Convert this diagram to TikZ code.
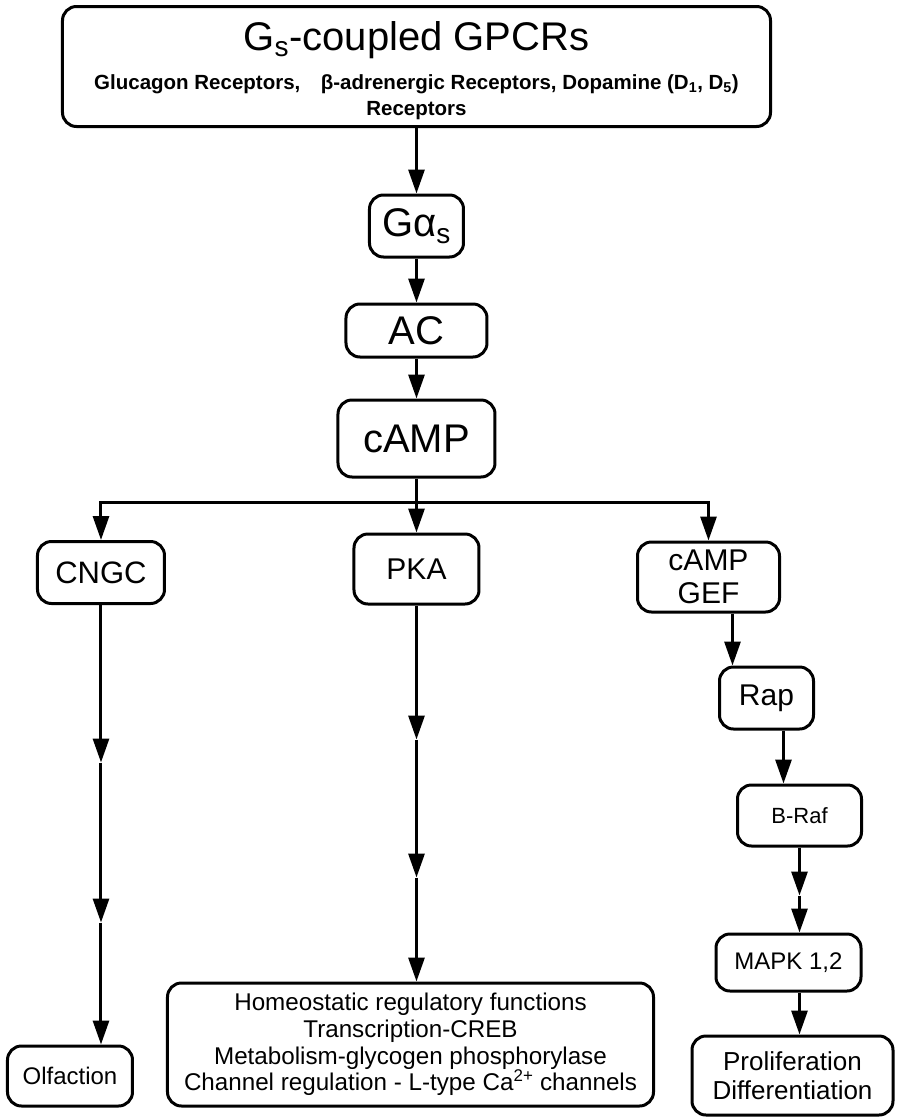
\documentclass[tikz,border=0pt]{standalone}
\usepackage{fontspec}
\setmainfont{Liberation Sans}
\usepackage{tikz}
\usetikzlibrary{positioning,arrows.meta}

\newcommand{\fsz}[2]{\fontsize{#1}{#2}\selectfont}

\begin{document}
\begin{tikzpicture}[on grid,
  box/.style={draw, line width=3pt, rounded corners=14pt, align=center, inner sep=2pt},
  arr/.style={-{Triangle[length=24pt,width=16pt]}, line width=3pt}]

  \useasboundingbox (-416.5pt,66.5pt) rectangle (482.5pt,-1050.5pt);

  \node[box, minimum width=708pt, minimum height=120pt, font=\bfseries\fsz{20.5}{26}] (gpcr)
    {{\mdseries\fsz{40}{42}\rule{0pt}{37pt}G\textsubscript{s}-coupled GPCRs}\\[13pt]
     Glucagon Receptors,\quad β-adrenergic Receptors, Dopamine (D\textsubscript{1}, D\textsubscript{5})\\
     Receptors};

  \node[box, minimum width=94pt, minimum height=62pt, font=\fsz{40}{44}] (gas) [below=159.5pt of gpcr] {Gα\textsubscript{s}};
  \node[box, minimum width=141pt, minimum height=53pt, font=\fsz{40}{44}] (ac) [below=104.5pt of gas] {AC};
  \node[box, minimum width=157pt, minimum height=77pt, font=\fsz{40}{44}] (camp) [below=108pt of ac] {cAMP};

  \node[box, minimum width=125pt, minimum height=70pt, font=\fsz{30}{33}] (pka) [below=130.5pt of camp] {PKA};
  \node[box, minimum width=127pt, minimum height=62pt, font=\fsz{31}{33}] (cngc) [below left=3.5pt and 315.5pt of pka] {CNGC};
  \node[box, minimum width=142pt, minimum height=70pt, font=\fsz{30}{33}] (gef) [below right=8pt and 292pt of pka] {cAMP\\GEF};

  \node[box, minimum width=94pt, minimum height=62pt, font=\fsz{30}{33}] (rap) [below right=121pt and 58pt of gef] {Rap};
  \node[box, minimum width=124pt, minimum height=61pt, font=\fsz{22}{26}] (braf) [below right=117.5pt and 33pt of rap] {B-Raf};
  \node[box, minimum width=145pt, minimum height=57pt, font=\fsz{24}{28}] (mapk) [below left=147pt and 11pt of braf] {MAPK 1,2};
  \node[box, minimum width=201pt, minimum height=79pt, font=\fsz{26}{29}] (prolif) [below right=113pt and 4pt of mapk] {Proliferation\\Differentiation};

  \node[box, minimum width=125pt, minimum height=60pt, font=\fsz{24}{28}] (olf) [below left=503.5pt and 31pt of cngc] {Olfaction};
  \node[box, minimum width=486pt, minimum height=123pt, font=\fsz{24.2}{26.7}] (effects) [below left=475.5pt and 6pt of pka]
    {Homeostatic regulatory functions\\
     Transcription-CREB\\
     Metabolism-glycogen phosphorylase\\
     Channel regulation - L-type Ca\textsuperscript{2+} channels};

  \coordinate[below=24pt of camp.south] (split);
  \coordinate[below=157.5pt of cngc.south] (cn1);
  \coordinate[below=160pt of cn1] (cn2);
  \coordinate[below=134pt of pka.south] (pk1);
  \coordinate[below=138pt of pk1] (pk2);
  \coordinate[right=24pt of gef.south] (gf1);
  \coordinate[right=17pt of rap.south] (rp1);
  \coordinate[below=48pt of braf.south] (bf1);

  \draw[arr] (gpcr) -- (gas);
  \draw[arr] (gas) -- (ac);
  \draw[arr] (ac) -- (camp);
  \draw[arr] (camp) -- (pka);
  \draw[arr] (split) -| (cngc);
  \draw[arr] (split) -| (gef);

  \draw[arr] (cngc) -- (cn1);
  \draw[arr] (cn1) -- (cn2);
  \draw[arr] (cn2) -- (cn2 |- olf.north);

  \draw[arr] (pka) -- (pk1);
  \draw[arr] (pk1) -- (pk2);
  \draw[arr] (pk2) -- (pk2 |- effects.north);

  \draw[arr] (gf1) -- (gf1 |- rap.north);
  \draw[arr] (rp1) -- (rp1 |- braf.north);
  \draw[arr] (braf) -- (bf1);
  \draw[arr] (bf1) -- (bf1 |- mapk.north);
  \draw[arr] (bf1 |- mapk.south) -- (bf1 |- prolif.north);

\end{tikzpicture}
\end{document}
